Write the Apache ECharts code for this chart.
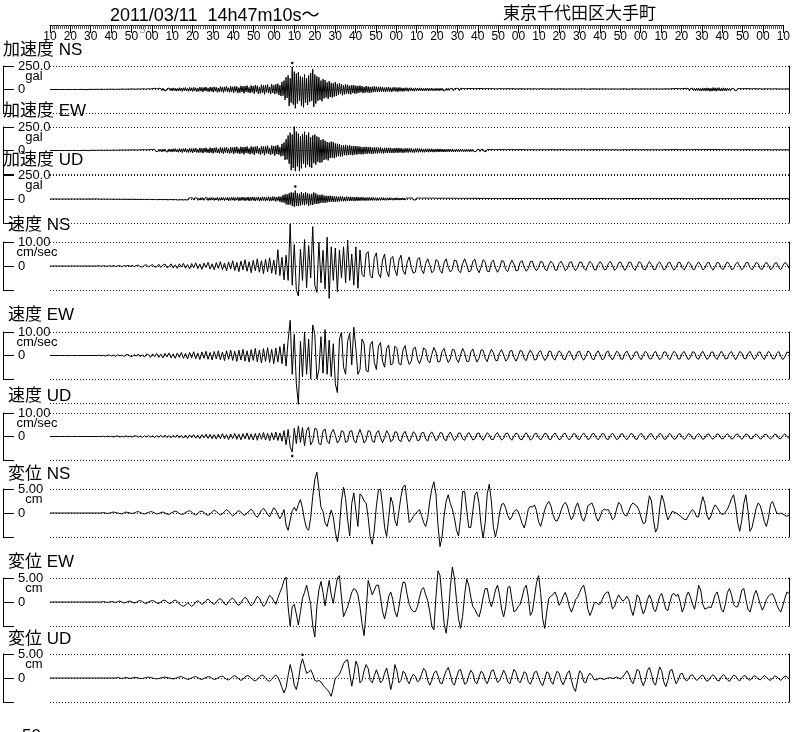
<!DOCTYPE html>
<html><head><meta charset="utf-8">
<script src="https://cdn.jsdelivr.net/npm/echarts@6/dist/echarts.min.js"></script>
<style>html,body{margin:0;padding:0;background:#fff}#c{width:793px;height:732px}</style>
</head><body><div id="c"></div>
<script>
// ---- tick labels of the time ruler (seconds, starting 14h47m10s, every 10 s) ----
const timeLabels = ['10','20','30','40','50','00','10','20','30','40','50','00','10','20','30','40','50','00',
  '10','20','30','40','50','00','10','20','30','40','50','00','10','20','30','40','50','00','10'];

// ---- acceleration (gal), one value every 0.5 s ----
const accNS = [
0,0,0,0,0,0,0,0,0,0, 0,0,0,0,0,0,0,0,0,0,
0,0,0,0,1,-1,0,1,-1,0, 1,-1,1,0,-1,1,-1,0,1,-1,
2,-1,1,-2,1,-1,2,-2,1,-1, 3,-2,1,-3,2,-1,3,-2,2,-3,
4,-2,3,-4,1,-3,4,-3,2,-4, 5,-3,4,-5,2,-4,5,-3,4,-6,
6,-4,5,-6,3,-5,7,-6,4,-7, 8,-5,6,-8,4,-7,9,-6,5,-8,
10,-7,12,-9,6,-11,13,-8,10,-12, 14,-9,11,-15,8,-12,16,-10,13,-15,
17,-11,14,-18,10,-15,19,-13,16,-20, 18,-12,21,-16,11,-19,22,-15,18,-21,
23,-14,19,-24,13,-20,25,-17,21,-26, 22,-15,27,-20,14,-24,26,-19,23,-28,
29,-18,24,-30,16,-26,31,-22,27,-32, 28,-19,33,-25,18,-30,34,-24,29,-35,
36,-22,31,-38,20,-33,39,-27,35,-41, 37,-24,42,-31,22,-38,43,-30,36,-45,
46,-28,40,-48,25,-42,50,-33,44,-52, 47,-30,53,-38,28,-47,55,-36,45,-50,
55,-40,62,-58,45,-70,80,-65,95,-110, 130,-90,150,-175,120,-140,240,-160,190,-200,
170,-150,185,-120,140,-175,130,-190,160,-140, 120,-165,150,-130,175,-120,215,-185,160,-150,
140,-120,130,-110,95,-125,110,-95,100,-85, 75,-100,90,-80,70,-85,65,-75,80,-70,
60,-55,65,-48,58,-62,45,-52,55,-42, 50,-46,40,-52,48,-38,45,-44,40,-42,
38,-35,42,-30,36,-38,28,-34,36,-30, 32,-35,27,-33,30,-28,34,-26,30,-27,
28,-26,30,-22,27,-25,21,-27,24,-20, 26,-23,19,-25,22,-18,24,-21,20,-24,
22,-18,20,-21,16,-20,19,-15,18,-20, 17,-14,19,-16,13,-18,17,-14,16,-15,
17,-13,15,-16,12,-15,16,-12,14,-15, 13,-11,15,-13,10,-14,13,-11,12,-14,
13,-10,14,-12,9,-13,12,-10,13,-11, 12,-9,11,-13,10,-11,12,-9,11,-12,
12,-9,11,-10,8,-12,10,-9,11,-10, 10,-8,11,-9,7,-10,9,-8,10,-9,
10,-7,9,-10,8,-9,10,-7,8,-9, 9,-7,10,-8,6,-9,8,-7,9,-8,
9,-6,8,-9,7,-8,9,-6,8,-8, 8,-6,9,-7,5,-8,7,-6,8,-7,
8,-6,7,-8,6,-7,8,-5,7,-8, 7,-6,8,-6,5,-7,7,-5,8,-6,
8,-5,7,-7,6,-8,6,-5,7,-7, 7,-5,6,-7,5,-6,8,-5,6,-7,
7,-5,6,-7,5,-6,7,-5,6,-7, 6,-4,7,-6,5,-7,6,-5,7,-6,
7,-5,6,-6,4,-7,6,-5,7,-6, 6,-4,7,-5,5,-6,7,-5,6,-6,
6,-5,7,-6,4,-6,7,-5,6,-7, 6,-4,6,-6,5,-7,6,-4,7,-6,
7,-5,6,-6,4,-7,6,-5,7,-6, 6,-5,7,-5,4,-6,7,-5,6,-7,
7,-5,6,-7,5,-6,7,-4,6,-6, 7,-5,6,-7,5,-6,7,-5,6,-6,
8,-5,7,-8,6,-7,9,-6,8,-9, 10,-7,9,-10,7,-9,11,-8,10,-11,
12,-8,11,-13,9,-12,14,-10,12,-14, 15,-10,14,-16,11,-14,17,-12,15,-17,
18,-12,16,-19,13,-17,20,-14,18,-19, 17,-12,19,-15,12,-16,18,-13,15,-16,
14,-10,13,-14,9,-12,13,-9,11,-12, 10,-8,11,-10,7,-10,10,-7,9,-10,
9,-6,8,-9,6,-8,9,-6,8,-8, 7,-6,8,-7,5,-7,8,-6,7,-7,
7,-5,7,-8,5,-7,8,-5,7,-7, 6,-5,7,-6,5,-7,6,-5,7,-6,
5];
const accEW = [
0,0,0,0,0,0,0,0,0,0, 0,0,0,0,0,0,0,0,0,0,
0,0,0,0,1,-1,0,1,-1,1, 0,-1,2,-1,1,-2,1,0,-2,1,
2,-1,3,-2,1,-3,2,-2,3,-1, 3,-3,2,-4,3,-2,4,-3,2,-4,
4,-3,5,-3,2,-5,4,-4,5,-2, 5,-4,6,-3,4,-6,5,-4,6,-5,
6,-5,7,-4,5,-7,6,-5,8,-6, 8,-6,9,-5,7,-9,8,-6,10,-8,
11,-8,13,-9,7,-12,14,-10,12,-14, 15,-10,16,-12,9,-15,17,-12,14,-17,
18,-12,20,-15,11,-19,21,-16,18,-22, 20,-14,23,-18,13,-21,24,-18,20,-25,
22,-16,26,-20,14,-24,27,-20,23,-28, 25,-18,29,-22,16,-27,30,-22,26,-31,
28,-20,32,-25,18,-30,33,-24,29,-35, 31,-22,36,-27,20,-33,37,-26,32,-38,
35,-24,39,-30,22,-36,40,-29,35,-42, 38,-26,43,-32,24,-40,44,-31,38,-46,
41,-28,47,-34,26,-43,48,-33,42,-50, 44,-30,51,-37,28,-47,52,-36,46,-55,
50,-38,58,-45,35,-62,70,-55,85,-100, 120,-95,160,-140,190,-210,170,-185,255,-220,
200,-170,180,-220,150,-190,175,-140,200,-180, 165,-150,190,-175,140,-185,160,-135,170,-150,
150,-120,140,-130,110,-125,120,-100,105,-95, 90,-105,85,-80,95,-75,90,-82,75,-70,
72,-60,68,-65,55,-62,58,-50,60,-52, 52,-48,55,-45,47,-50,46,-42,48,-44,
44,-38,42,-40,35,-41,38,-33,40,-36, 37,-32,38,-35,30,-36,34,-30,33,-32,
32,-28,33,-29,25,-31,28,-26,29,-27, 28,-24,29,-26,22,-27,26,-23,27,-25,
26,-21,25,-24,19,-24,23,-20,24,-22, 22,-18,23,-21,17,-22,21,-18,22,-20,
21,-17,20,-19,15,-19,19,-16,18,-18, 18,-15,19,-17,14,-18,17,-14,17,-16,
17,-14,16,-16,12,-16,15,-13,16,-15, 15,-12,14,-15,11,-14,15,-12,13,-14,
14,-11,13,-13,10,-13,13,-10,12,-13, 12,-10,13,-11,9,-12,11,-10,12,-11,
12,-9,11,-12,9,-11,12,-9,10,-11, 11,-9,10,-11,8,-10,11,-8,10,-10,
10,-8,11,-9,7,-10,9,-8,10,-9, 10,-7,9,-10,8,-9,10,-7,9,-9,
9,-7,10,-8,7,-9,9,-7,8,-9, 9,-7,8,-9,6,-8,9,-7,8,-8,
9,-6,8,-8,7,-9,8,-6,9,-8, 8,-6,9,-7,6,-8,8,-7,9,-8,
8,-7,9,-7,6,-8,8,-6,9,-8, 8,-6,8,-8,7,-9,8,-6,8,-7,
9,-7,8,-8,6,-8,9,-7,8,-8, 8,-6,9,-7,7,-8,8,-7,9,-8,
8,-6,9,-8,7,-8,8,-7,9,-7, 8,-7,8,-8,6,-9,8,-6,8,-8,
9,-7,8,-8,6,-8,9,-7,8,-9, 8,-6,9,-8,7,-8,8,-7,9,-7,
8,-7,9,-8,6,-8,8,-7,9,-8, 8,-6,8,-8,7,-9,8,-7,8,-8,
9,-7,8,-9,7,-8,10,-8,9,-9, 10,-7,9,-10,8,-9,10,-8,9,-10,
10,-8,11,-9,8,-10,11,-9,10,-11, 10,-8,11,-10,8,-10,11,-9,10,-10,
10,-8,11,-9,8,-10,10,-9,11,-9, 10,-8,9,-10,8,-9,10,-8,9,-9,
9,-7,10,-8,7,-9,9,-8,8,-9, 9,-7,8,-9,7,-8,9,-7,8,-8,
9,-7,8,-8,6,-8,9,-7,8,-8, 8,-6,9,-7,7,-8,8,-7,9,-8,
8,-7,8,-8,6,-8,9,-6,8,-8, 8,-6,8,-7,7,-8,8,-7,8,-7,
6];
const accUD = [
0,0,0,0,0,0,0,0,0,0, 0,0,0,0,0,0,0,0,0,0,
0,0,0,0,0,0,0,0,0,0, 0,1,0,-1,0,1,-1,0,1,0,
-1,1,0,-1,1,-1,1,0,-1,1, -1,2,-1,1,-2,1,-1,2,-1,1,
-2,2,-1,2,-3,1,-2,3,-2,1, -3,2,-3,3,-2,3,-4,2,-3,4,
-3,4,-2,4,-5,3,-4,5,-3,4, -5,4,-3,5,-6,4,-5,6,-4,5,
-6,5,-4,6,-7,5,-6,7,-5,6, -7,6,-5,7,-8,6,-7,8,-5,7,
-8,7,-6,9,-10,7,-9,10,-7,9, -10,8,-7,11,-12,9,-10,12,-8,11,
-12,10,-8,13,-14,10,-12,14,-9,13, -14,11,-9,15,-15,12,-13,15,-10,14,
-15,12,-10,16,-17,13,-14,17,-11,16, -17,13,-11,18,-18,14,-15,18,-12,17,
-18,14,-12,19,-20,15,-16,20,-13,18, -19,15,-13,21,-21,16,-17,21,-14,20,
-21,16,-14,22,-23,17,-18,23,-15,21, -22,17,-15,24,-24,18,-19,25,-16,23,
-25,19,-17,27,-30,24,-35,40,-38,48, -55,50,-62,60,-58,70,-72,65,-80,88,
-70,62,-75,55,-68,72,-60,58,-65,70, -55,62,-72,50,-60,55,-62,68,-50,58,
-52,45,-48,42,-40,46,-38,36,-40,33, -35,32,-30,34,-28,31,-29,27,-30,26,
-28,24,-26,27,-22,25,-24,21,-23,25, -21,22,-20,23,-19,21,-22,18,-20,21,
-19,17,-18,19,-16,18,-17,15,-18,16, -16,17,-15,16,-14,17,-15,13,-16,14,
-15,13,-14,15,-12,14,-13,12,-14,13, -12,13,-11,12,-13,11,-12,13,-11,12,
-12,10,-11,12,-10,11,-12,9,-11,10, -10,11,-9,11,-10,9,-11,10,-9,10,
-10,9,-10,8,-9,10,-8,9,-9,8, -9,8,-9,9,-7,9,-8,8,-9,7,
-8,8,-7,9,-8,7,-8,8,-7,8, -8,7,-8,7,-6,8,-7,7,-8,6,
-7,7,-6,7,-7,6,-7,7,-6,7, -7,6,-6,7,-5,7,-6,6,-7,6,
-6,6,-5,7,-6,5,-6,6,-5,6, -6,5,-6,6,-5,6,-5,5,-6,5,
-6,5,-5,6,-4,5,-6,5,-5,6, -5,4,-5,6,-5,5,-4,5,-6,5,
-5,5,-4,5,-5,4,-5,5,-4,6, -5,4,-5,5,-4,5,-5,4,-5,5,
-5,4,-5,5,-4,5,-4,4,-5,5, -4,5,-4,4,-5,4,-5,5,-4,4,
-5,4,-4,5,-4,5,-5,4,-4,5, -4,4,-5,4,-4,5,-4,4,-5,4,
-4,5,-4,4,-5,4,-4,5,-4,4, -5,4,-4,5,-4,4,-4,5,-5,4,
-4,4,-5,4,-4,5,-4,4,-5,4, -4,5,-4,4,-5,4,-4,4,-5,4,
-4,5,-4,4,-4,5,-5,4,-4,4, -5,4,-4,5,-4,4,-4,5,-4,4,
-5,4,-4,4,-5,4,-4,5,-4,4, -4,5,-5,4,-4,4,-5,4,-4,5,
-4,4,-5,4,-4,5,-4,4,-5,4, -4,4,-5,5,-4,4,-4,5,-4,4,
-5,4,-4,5,-4,4,-5,4,-4,4, -5,4,-4,5,-4,4,-4,4,-5,4,
-4,5,-4,4,-5,4,-4,4,-5,5, -4,4,-4,5,-4,4,-5,4,-4,4,
-4,5,-4,4,-5,4,-4,4,-5,4, -4,5,-4,4,-4,5,-4,4,-5,4,
-4,4,-5,4,-4,5,-4,4,-4,5, -4,4,-5,4,-4,4,-5,4,-4,4,
-4,4,-5,4,-4,4,-5,4,-4,5, -4,4,-4,5,-4,4,-5,4,-4,4,
-3];

// ---- velocity (cm/sec), one value per second ----
const velNS = [
0,0,0,0,0,0,0,0,0,0, 0,0,0,0,0,0,0,0,0,0,
0,0,0,0,0.1,-0.1,0.1,0,-0.1,0.2, -0.1,0.2,-0.2,0.1,0.2,-0.3,0.2,-0.1,0.3,-0.2,
0.3,-0.3,0.2,0.4,-0.3,-0.4,0.3,0.5,-0.4,0.2, 0.6,-0.5,-0.3,0.7,-0.6,0.4,0.8,-0.7,-0.2,0.9,
-0.8,0.5,-1.0,0.9,-0.4,1.1,-0.9,0.6,-1.2,1.0, -0.7,1.3,-1.1,0.8,-1.4,1.2,-0.6,1.5,-1.3,0.9,
-1.6,1.4,-1.0,1.8,-1.5,1.2,-2.0,1.7,-1.3,2.2, -1.9,1.5,-2.4,2.0,-1.6,2.6,-2.2,1.8,-2.8,2.4,
-2.0,3.0,-2.6,2.2,-3.2,2.8,-2.4,3.4,-3.0,2.5, -3.5,6.8,-4.0,3.6,-5.8,4.5,-6.0,17.5,-8.0,9.0,
-10.0,-12.5,7.0,-6.0,11.0,-9.0,8.5,-5.0,16.4,-8.0, -11.0,10.0,-7.0,6.5,-9.5,12.0,-13.5,8.0,-6.0,7.5,
-10.7,6.7,-5.0,8.0,-7.0,10.8,-6.0,5.0,-8.0,8.0, -9.3,6.7,-3.5,-4.5,5.0,6.0,-4.0,-5.0,3.5,5.5,
-3.0,-4.8,2.5,5.0,-2.0,-4.5,3.0,4.0,-1.5,-4.0, 2.5,4.5,-2.0,-3.5,1.5,3.8,-0.5,-3.0,-2.5,2.8,
3.5,-1.5,-3.2,1.0,3.0,0.5,-2.8,-2.0,2.6,2.0, -1.8,-3.0,1.5,3.0,-0.5,-2.5,-1.5,2.5,2.2,-2.0,
-2.8,1.0,3.0,0.5,-2.5,-2.0,2.0,2.8,-1.0,-2.8, -0.5,2.6,1.8,-2.2,-2.4,1.5,2.5,-0.8,-2.6,-1.0,
2.2,2.0,-1.5,-2.3,0.5,2.4,0.8,-2.0,-1.8,1.6, 2.2,-0.5,-2.2,-1.0,1.8,2.0,-0.8,-2.0,-0.6,1.9,
1.6,-1.2,-2.0,0.4,2.0,1.0,-1.6,-1.8,1.0,2.0, 0.2,-1.9,-1.2,1.4,1.8,-0.6,-1.9,-0.6,1.6,1.6,
-0.9,-1.8,0.3,1.9,1.0,-1.4,-1.7,0.6,1.8,0.6, -1.6,-1.4,1.0,1.9,0.2,-1.8,-1.0,1.3,1.7,-0.4,
-1.8,-0.6,1.6,1.5,-0.8,-1.8,0,1.8,1.1,-1.3, -1.6,0.5,1.8,0.6,-1.5,-1.4,0.9,1.7,0.2,-1.6,
-1.1,1.2,1.6,-0.4,-1.7,-0.6,1.5,1.4,-0.9,-1.6, 0.1,1.7,0.9,-1.3,-1.5,0.6,1.7,0.3,-1.6,-1.0,
1.1,1.6,-0.5,-1.7,-0.3,1.5,1.2,-1.0,-1.5,0.4, 1.7,0.6,-1.5,-1.2,0.9,1.6,-0.2,-1.6,-0.7,1.3,
1.5,-0.6,-1.6,-0.2,1.5,1.0,-1.2,-1.4,0.5,1.6, 0.3,-1.5,-0.9,1.1,1.4,-0.7,-1.5,0.1,1.5,0.8,
-1.0];
const velEW = [
0,0,0,0,0,0,0,0,0,0, 0,0,0,0,0,0,0,0,0,0,
0,0,0,0,0.1,-0.1,0.1,-0.2,0.1,0.2, -0.2,0.1,-0.3,0.3,-0.1,0.2,-0.4,0.3,0.4,-0.3,
-0.5,0.4,-0.3,0.6,-0.5,0.3,-0.7,0.6,0.4,-0.8, 0.7,-0.5,0.9,-0.8,0.6,-1.0,0.9,-0.6,1.1,-1.0,
0.7,-1.2,1.1,-0.8,1.3,-1.2,0.9,-1.5,1.3,-1.0, 1.6,-1.4,1.1,-1.7,1.5,-1.2,1.8,-1.6,1.3,-1.9,
1.7,-1.4,2.0,-1.8,1.5,-2.2,2.0,-1.6,2.3,-2.1, 1.8,-2.5,2.3,-1.9,2.6,-2.4,2.0,-2.8,2.5,-2.1,
3.0,-2.7,2.3,-3.2,2.9,-2.5,3.3,-3.0,2.6,-3.5, 3.2,-2.8,3.8,-3.5,5.0,-4.5,6.5,15.0,-8.0,9.0,
-12.0,-20.8,6.0,-9.0,10.0,-8.0,7.0,-10.0,13.0,9.0, -10.0,-6.0,8.0,-7.5,11.0,-8.0,6.5,-9.0,5.0,-12.0,
-15.8,7.0,10.0,-5.0,-8.0,6.0,9.5,-4.0,12.0,3.0, -8.0,-6.0,7.0,5.0,-6.5,-7.0,4.5,6.0,-3.0,-6.0,
4.0,5.5,-2.5,-5.0,3.0,4.5,-4.0,-3.5,4.0,3.0, -3.5,-4.0,2.5,4.2,-1.0,-3.8,-2.5,3.0,3.5,-1.5,
-3.5,-1.0,3.2,2.5,-2.0,-3.2,0.5,3.4,1.5,-2.8, -2.5,1.8,3.0,-0.5,-3.0,-1.5,2.6,2.4,-1.5,-3.0,
0.2,3.0,1.2,-2.5,-2.5,1.5,2.8,-0.3,-2.8,-1.2, 2.4,2.2,-1.2,-2.6,0.3,2.6,1.2,-2.0,-2.2,1.2,
2.5,0.2,-2.4,-1.4,1.8,2.2,-0.8,-2.4,-0.6,2.1, 1.8,-1.4,-2.2,0.6,2.3,0.8,-1.9,-1.7,1.3,2.1,
-0.3,-2.1,-1.0,1.8,1.8,-1.0,-2.0,0.4,2.0,1.1, -1.5,-1.8,0.8,2.0,0.2,-1.9,-1.2,1.5,1.8,-0.7,
-2.0,-0.4,1.9,1.3,-1.3,-1.8,0.7,2.0,0.3,-1.8, -1.2,1.4,1.8,-0.7,-1.9,-0.2,1.8,1.2,-1.4,-1.6,
0.8,1.9,0.1,-1.8,-1.0,1.4,1.6,-0.7,-1.8,0.1, 1.8,0.9,-1.4,-1.4,0.8,1.8,-0.2,-1.8,-0.8,1.5,
1.5,-0.9,-1.8,0.3,1.8,0.8,-1.5,-1.4,1.0,1.7, -0.2,-1.8,-0.7,1.6,1.3,-1.1,-1.6,0.6,1.8,0.1,
-1.7,-0.9,1.4,1.5,-0.8,-1.7,0.3,1.8,0.6,-1.5, -1.3,1.0,1.7,-0.4,-1.8,-0.2,1.7,1.1,-1.2,-1.5,
0.7,1.8,0,-1.7,-0.9,1.4,1.5,-0.7,-1.7,0.2, 1.8,0.8,-1.4,-1.4,0.8,1.7,-0.3,-1.7,-0.6,1.5,
1.2];
const velUD = [
0,0,0,0,0,0,0,0,0,0, 0,0,0,0,0,0,0,0,0,0,
0,0,0,0,0,0,0.1,-0.1,0.1,-0.1, 0.1,-0.2,0.1,0.2,-0.2,0.1,-0.2,0.3,-0.2,0.2,
-0.3,0.2,0.3,-0.3,0.2,-0.4,0.3,-0.2,0.4,-0.3, 0.3,-0.5,0.4,-0.3,0.5,-0.4,0.6,-0.5,0.4,-0.6,
0.5,-0.4,0.7,-0.6,0.5,-0.7,0.6,-0.8,0.7,-0.5, 0.8,-0.7,0.6,-0.9,0.8,-0.6,1.0,-0.8,0.9,-1.0,
0.8,-1.1,1.0,-0.9,1.2,-1.0,0.8,-1.3,1.1,-0.9, 1.3,-1.2,1.0,-1.4,1.2,-1.0,1.5,-1.3,1.1,-1.5,
1.3,-1.6,1.4,-1.2,1.7,-1.5,1.3,-1.8,1.6,-1.4, 1.9,-1.7,1.5,-2.0,2.5,-3.5,3.0,-4.5,-6.6,3.5,
-3.0,4.5,-2.5,3.8,-4.0,2.5,4.0,-3.5,-2.0,3.5, 3.0,-3.0,-3.5,2.5,3.2,-2.0,-3.0,1.5,3.0,0.5,
-2.8,-1.5,2.5,2.0,-2.5,-2.0,2.2,2.5,-1.5,-2.8, 0.5,3.0,0.5,-2.8,-1.5,2.5,2.0,-2.0,-2.5,1.5,
2.5,-0.5,-2.6,-0.5,2.5,1.0,-2.2,-1.5,2.0,1.8, -1.5,-2.2,1.0,2.2,-0.5,-2.2,-0.5,2.0,1.2,-1.8,
-1.5,1.5,1.8,-1.0,-2.0,0.8,2.0,0.2,-1.8,-1.0, 1.6,1.5,-1.2,-1.8,0.6,1.9,0,-1.8,-0.8,1.5,
1.4,-1.0,-1.6,0.5,1.7,0.3,-1.5,-1.0,1.2,1.5, -0.6,-1.6,0,1.6,0.8,-1.3,-1.3,0.8,1.6,-0.2,
-1.5,-0.8,1.3,1.4,-0.6,-1.6,0.1,1.5,0.9,-1.2, -1.4,0.6,1.6,0.2,-1.5,-0.9,1.1,1.4,-0.5,-1.5,
-0.2,1.4,1.0,-1.1,-1.3,0.5,1.5,0.2,-1.4,-0.9, 1.0,1.4,-0.4,-1.5,-0.3,1.3,1.0,-1.0,-1.3,0.5,
1.5,0.3,-1.3,-0.9,1.0,1.3,-0.4,-1.4,-0.3,1.3, 1.0,-1.0,-1.3,0.5,1.4,0.2,-1.3,-0.8,1.0,1.2,
-0.5,-1.4,-0.1,1.3,0.9,-1.0,-1.2,0.5,1.4,0.1, -1.3,-0.8,1.0,1.2,-0.5,-1.3,-0.1,1.3,0.8,-1.0,
-1.2,0.5,1.3,0.1,-1.2,-0.8,0.9,1.2,-0.4,-1.3, -0.2,1.2,0.8,-0.9,-1.1,0.5,1.3,0.1,-1.2,-0.7,
0.9,1.1,-0.4,-1.2,-0.2,1.2,0.7,-0.9,-1.0,0.4, 1.2,0.2,-1.1,-0.7,0.8,1.1,-0.3,-1.2,-0.2,1.1,
0.7,-0.8,-1.0,0.4,1.1,0.1,-1.1,-0.6,0.8,1.0, -0.3,-1.1,-0.2,1.0,0.7,-0.8,-1.0,0.4,1.1,0.1,
-0.9];

// ---- displacement (cm), one value per second ----
const dspNS = [
0,0,0,0,0,0,0,0,0,0, 0,0,0,0,0,0,0,0,0,0,
0,0,0,0,0,0,0.1,0,-0.1,0, 0.1,0.2,0.1,0,-0.1,-0.2,0,0.2,0.1,0,
-0.1,0,0.2,0.3,0.1,-0.1,-0.2,0,0.1,0.3, 0.2,0,-0.2,-0.1,0.1,0.2,0,-0.2,-0.3,0,
0.2,0.4,0.2,-0.1,-0.3,-0.2,0.1,0.3,0.5,0.2, -0.2,-0.4,-0.1,0.3,0.4,0.1,-0.3,-0.5,-0.2,0.2,
0.6,0.3,-0.1,-0.4,-0.2,0.3,0.7,0.4,-0.2,-0.6, -0.3,0.2,0.5,0.2,-0.3,-0.5,0,0.4,0.8,0.3,
-0.5,-0.9,-0.2,0.6,1.0,0.4,-0.3,-0.8,0.2,1.1, 0.6,-0.4,-1.2,-0.5,0.7,-2.5,-3.6,-1.5,0.5,1.2,
0.4,1.8,2.8,1.0,-1.5,-3.2,-3.6,-1.0,3.5,7.0, 8.5,5.0,1.2,0.3,-2.0,-2.8,-1.0,0.6,-0.8,-4.0,
-6.0,-3.0,2.5,5.4,3.0,-1.5,-4.8,2.0,4.2,0.5, -2.8,4.0,3.5,2.5,2.1,-1.0,-5.0,-6.5,-3.5,1.5,
4.8,5.0,1.5,-3.0,-4.9,-1.0,3.3,2.0,-1.5,-2.7, 0.5,3.5,5.5,5.8,2.0,-2.0,-1.5,-0.7,-0.2,0.3,
0.7,-0.5,-2.0,-2.8,-1.0,2.5,5.0,6.5,4.0,-2.5, -7.0,-5.0,-0.5,2.5,3.8,2.0,0.8,-1.0,-3.5,-4.8,
-1.0,4.5,4.5,0.5,-3.0,-3.0,0.5,3.8,4.4,2.0, -2.5,-5.2,-2.0,4.0,6.0,2.5,-3.0,-5.0,-3.0,0,
1.8,2.0,1.0,-0.5,-1.4,-0.8,0.2,0.7,0.4,-0.8, -2.2,-3.1,-1.5,0.8,1.4,1.2,1.7,0.5,-1.8,-2.8,
-1.2,0.7,1.8,2.4,1.5,-0.3,-1.5,-1.7,-0.8,0.6, 1.7,2.2,1.5,-0.2,-1.4,-0.6,1.2,2.1,0.8,-1.0,
-1.7,-0.5,1.5,1.8,2.1,1.0,-0.8,-1.7,-0.8,0.5, 0.8,0.6,0.7,-0.2,-1.4,-1.0,0.8,2.2,1.8,0.3,
-0.5,-0.6,0.5,1.6,2.1,1.7,1.4,0.5,-1.0,-2.2, -2.0,0.8,3.6,2.5,-1.5,-4.0,-3.0,1.0,3.7,2.5,
0.2,-1.4,-0.6,0.3,0.2,0,-0.3,-0.6,-1.0,-1.3, -1.4,-0.6,0.2,0.7,0.2,-0.8,-0.8,1.5,3.4,2.0,
-0.5,-1.4,-0.6,0.8,1.7,1.2,0.4,-0.2,-0.3,0.2, 0.8,1.8,3.0,3.8,1.5,-2.0,-3.8,-1.5,2.0,3.8,
0.5,-3.8,-3.0,-1.0,1.0,2.1,1.5,0,-1.8,-2.8, -1.0,1.8,2.4,1.2,0,-0.2,0,-0.2,-0.5,-0.7,
-0.4];
const dspEW = [
0,0,0,0,0,0,0,0,0,0, 0,0,0,0,0,0,0,0,0,0,
0,0,0,0,0,0,0.1,0,-0.1,0, 0.1,0,-0.1,0.1,0.2,0,-0.2,-0.1,0.1,0.2,
0,-0.2,-0.1,0.2,0.3,0.1,-0.2,-0.3,0,0.2, 0.3,0.1,-0.2,-0.3,0,0.3,0.4,0,-0.3,-0.2,
0.2,0.4,0.1,-0.4,-0.7,-0.9,-0.6,-0.2,-0.5,-0.9, -0.6,0,0.3,-0.1,-0.5,-0.2,0.3,0.6,0.2,-0.3,
-0.5,0,0.5,0.7,0.2,-0.4,-0.6,0,0.6,0.8, 0.3,-0.4,-0.7,-0.2,0.5,1.0,0.6,-0.2,-0.8,-0.4,
0.4,1.2,0.8,-0.1,-0.9,-0.5,0.6,1.4,1.0,0.2, -0.5,0.8,2.0,3.0,4.5,5.2,-1.0,-5.0,-1.0,-0.5,
-2.5,-4.8,-2.0,0.8,2.0,3.5,1.5,-0.5,-5.0,-7.3, -1.0,2.5,4.3,2.0,-0.8,2.0,4.5,1.5,-0.3,2.5,
5.0,5.5,1.0,-3.1,-2.0,-1.0,0.5,2.0,2.8,2.5, 1.5,-1.0,-4.5,-7.0,-2.0,4.5,3.0,1.5,2.5,3.5,
3.5,1.0,-2.0,-3.5,-1.5,1.2,2.1,0.5,-2.0,-3.1, -1.0,2.0,4.2,4.0,1.5,-0.5,-1.5,-2.0,-2.0,-1.0,
1.0,2.6,3.0,1.5,0.3,-2.0,-5.0,-5.8,1.0,6.5, 5.5,0.5,-4.5,-6.5,-3.0,3.0,7.3,5.0,0.5,-3.5,
-5.5,-3.0,1.5,4.8,3.5,1.0,-1.0,-1.5,-2.5,-3.1, -1.5,1.0,2.8,2.8,0.5,-1.0,0.5,2.5,3.5,1.5,
-1.5,-3.1,-1.0,3.0,3.3,0.5,-2.0,-1.8,-1.0,-0.5, 1.0,2.8,3.5,1.0,-2.8,-2.0,1.0,4.0,5.5,2.0,
-3.5,-5.5,-2.0,0.8,1.2,1.5,2.1,1.0,-0.7,0, 1.2,2.0,0.8,-1.0,-2.1,-1.0,0.5,1.0,2.0,3.0,
3.5,1.5,-1.5,-2.8,-1.8,-0.3,0,-0.5,-0.4,0.5, 1.5,2.0,2.1,0.5,-1.4,-1.0,0.5,1.5,0.8,0.2,
0.5,1.2,0.5,-1.5,-2.8,-1.0,1.5,1.0,-1.0,-2.5, -1.5,0.5,1.5,0.5,-1.5,-2.0,-0.5,1.2,1.8,0.2,
-1.5,-1.8,0,1.5,1.8,1.2,1.6,0,-2.1,-1.0, 1.2,2.1,1.0,-0.5,-1.5,0.8,3.5,2.5,-0.5,-1.5,
-1.3,-1.0,-1.2,0,1.5,2.1,0.5,-1.5,-2.1,-0.5, 2.0,2.8,1.5,-0.5,-1.0,-1.0,0.5,2.5,2.8,0.5,
-1.5,-2.1,-0.5,1.5,2.4,1.0,-0.5,-1.7,-0.8,0.5, 1.2,1.6,1.7,0.8,-0.5,-1.5,-2.1,-0.8,0.8,2.1,
1.8];
const dspUD = [
0,0,0,0,0,0,0,0,0,0, 0,0,0,0,0,0,0,0,0,0,
0,0,0,0,0,0,0,0,0,0, 0,0,0,0.1,0,-0.1,0,0.1,0,-0.1,
0,0.1,0.1,0,-0.1,-0.1,0,0.1,0.2,0.1, 0,-0.1,-0.2,-0.1,0,0.1,0.2,0.1,0,-0.1,
-0.2,-0.1,0.1,0.2,0.3,0.1,-0.1,-0.3,-0.2,0, 0.2,0.3,0.1,-0.2,-0.3,-0.1,0.1,0.3,0.2,-0.1,
-0.3,-0.2,0.1,0.3,0.4,0.1,-0.3,-0.4,-0.1,0.3, 0.5,0.2,-0.2,-0.5,-0.3,0.2,0.5,0.4,0,-0.4,
-0.6,-0.3,0.2,0.6,0.5,0,-0.5,-0.7,-0.3,0.3, 0.6,0.2,-0.8,-2.0,-3.1,-2.0,0.5,2.8,1.0,-1.5,
-2.4,-0.5,2.5,4.0,2.5,1.0,1.2,1.7,0.8,-0.5, -0.7,-0.5,-0.8,-1.5,-2.0,-2.4,-3.0,-3.8,-2.0,0,
0.3,0.8,1.8,3.0,3.6,3.8,1.0,-1.7,0.5,3.5, 2.5,-1.0,-0.5,1.5,2.8,2.0,-0.5,-1.0,0.5,1.7,
0.5,-1.0,-0.5,1.0,2.1,0,-2.4,-0.5,2.8,1.5, -1.0,-0.5,1.4,1.0,-0.5,-1.2,0,0.8,0.3,-0.8,
-0.5,0.8,2.0,1.5,-0.5,-1.5,-0.5,1.0,1.5,0.5, -1.0,-1.2,0.3,1.5,2.2,0.8,-1.0,-1.5,0,1.5,
1.8,0.2,-1.3,-1.0,0.5,1.6,1.0,-0.8,-1.2,0.2, 1.4,1.0,-0.5,-1.2,0,1.5,1.7,0.3,-0.9,-0.6,
0.5,1.6,0.8,-0.8,-1.2,0.3,1.8,1.2,-0.5,-1.0, 0,1.3,1.0,-0.8,-1.3,-0.2,1.2,1.4,0.2,-1.0,
-1.6,-0.2,1.3,1.0,-0.7,-1.3,0.2,1.4,1.0,-0.6, -1.4,-0.3,1.0,1.5,-0.5,-2.0,-2.8,-0.5,1.5,1.0,
-0.8,-1.0,0.3,1.0,0.5,-0.3,-0.4,-0.2,0,-0.2, -0.3,-0.1,0,0.1,-0.1,0,0.2,0,-0.2,0.2,
0.8,1.5,0.8,-0.5,-1.2,0.2,1.8,1.5,-0.5,-1.6, -0.5,1.5,2.2,0.8,-1.0,-1.5,0.5,2.3,1.5,-0.8,
-1.8,-0.5,1.5,1.8,0.2,-1.2,-0.5,0.8,1.0,0, -0.6,-0.3,0.5,0.7,0,-0.5,-0.2,0.4,0.6,0,
-0.7,-0.4,0.3,0.7,0.2,-0.5,-0.6,0.2,0.7,0.3, -0.4,-0.7,0,0.6,0.4,-0.3,-0.6,0,0.5,0.4,
-0.2,-0.5,0,0.5,0.3,-0.2,-0.4,0.1,0.5,0.2, -0.3,-0.5,0,0.4,0.3,-0.2,-0.5,-0.1,0.4,0.3,
-0.3];

// ---- panel descriptions ----
const traceNames = ['加速度 NS','加速度 EW','加速度 UD','速度 NS','速度 EW','速度 UD','変位 NS','変位 EW','変位 UD'];
const traceMax   = [250,250,250,10,10,10,5,5,5];
const traceStep  = [0.5,0.5,0.5,1,1,1,1,1,1];
const maxLabels  = ['250.0','250.0','250.0','10.00','10.00','10.00','5.00','5.00','5.00'];
const unitNames  = ['gal','gal','gal','cm/sec','cm/sec','cm/sec','cm','cm','cm'];
const peakType   = ['max','max','max','max','min','min','max','min','max'];
const headerLeft  = '2011/03/11  14h47m10s〜';
const headerRight = '東京千代田区大手町';

// ---- layout (pixels) ----
const panelTop = [66,127,175,242,332,413,489,578,654];
const panelH   = [47,47,48,48,47,47,48,48,48];
const titleY   = [50,111,160,225,315,396,474,562,639];
const titleX   = [3,3,3,8,8,8,8,8,8];
const unitX    = [34,34,34,37,37,37,34,34,34];

const FONT = '"Liberation Sans","Noto Sans CJK JP",sans-serif';
const traces = [accNS, accEW, accUD, velNS, velEW, velUD, dspNS, dspEW, dspUD];
const grids = [], xAxes = [], yAxes = [], series = [], graphics = [];

traces.forEach((arr, i) => {
  const M = traceMax[i];
  grids.push({left: 50, right: 4, top: panelTop[i], height: panelH[i]});
  xAxes.push({gridIndex: i, type: 'value', min: 0, max: 360, show: false});
  yAxes.push({
    gridIndex: i, type: 'value', position: 'left', min: -M, max: M, interval: M, offset: 47,
    axisLine: {show: true, onZero: false, lineStyle: {color: '#000', width: 1}},
    axisTick: {show: true, inside: true, length: 11, lineStyle: {color: '#000', width: 1}},
    axisLabel: {show: true, inside: true, margin: 15, color: '#000', fontSize: 13, fontFamily: FONT,
      formatter: v => v > 0 ? maxLabels[i] : (v === 0 ? '0' : '')},
    splitLine: {show: true, lineStyle: {color: '#222', width: 1, type: [1, 2]}}
  });
  yAxes.push({
    gridIndex: i, type: 'value', position: 'right', min: -M, max: M,
    axisLine: {show: true, onZero: false, lineStyle: {color: '#000', width: 1}},
    axisTick: {show: false}, axisLabel: {show: false}, splitLine: {show: false}
  });
  series.push({
    type: 'line', xAxisIndex: i, yAxisIndex: 2 * i,
    data: arr.map((v, k) => [k * traceStep[i], v]),
    showSymbol: false, symbol: 'none', clip: false, silent: true, animation: false,
    lineStyle: {color: '#000', width: 1},
    markPoint: {
      symbol: 'circle', symbolSize: 2.5,
      symbolOffset: [0, peakType[i] === 'max' ? -4 : 4],
      label: {show: false}, itemStyle: {color: '#000'}, animation: false,
      data: [{type: peakType[i]}]
    }
  });
  graphics.push({type: 'text', x: titleX[i], y: titleY[i],
    style: {text: traceNames[i], fontSize: 17, fontFamily: FONT, fill: '#000', align: 'left', verticalAlign: 'middle'}});
  graphics.push({type: 'text', x: unitX[i], y: panelTop[i] + 10.5,
    style: {text: unitNames[i], fontSize: 13, fontFamily: FONT, fill: '#000', align: 'center', verticalAlign: 'middle'}});
});

// extra dotted rule between the EW and UD velocity panels
graphics.push({type: 'line', shape: {x1: 50, y1: 403.5, x2: 789, y2: 403.5},
  style: {stroke: '#222', lineWidth: 1, lineDash: [1, 2]}, silent: true});

// time ruler at the top
grids.push({left: 50, right: 4, top: 25, height: 20});
xAxes.push({
  gridIndex: 9, type: 'value', position: 'top', min: 0, max: 360, interval: 10,
  axisLine: {show: true, onZero: false, lineStyle: {color: '#000', width: 1}},
  axisTick: {show: true, inside: true, length: 8, lineStyle: {color: '#000', width: 1}},
  minorTick: {show: true, splitNumber: 10, length: 4, lineStyle: {color: '#555', width: 1}},
  axisLabel: {show: true, inside: true, margin: 6, color: '#000', fontSize: 12, fontFamily: FONT,
    showMinLabel: true, showMaxLabel: true, hideOverlap: false,
    formatter: v => timeLabels[Math.round(v / 10)]},
  splitLine: {show: false}
});
yAxes.push({gridIndex: 9, type: 'value', show: false, min: 0, max: 1});
series.push({type: 'line', xAxisIndex: 9, yAxisIndex: 18, data: [], silent: true});

graphics.push({type: 'text', x: 110, y: 16,
  style: {text: headerLeft, fontSize: 18, fontFamily: FONT, fill: '#000', align: 'left', verticalAlign: 'middle'}});
graphics.push({type: 'text', x: 503, y: 14,
  style: {text: headerRight, fontSize: 17, fontFamily: FONT, fill: '#000', align: 'left', verticalAlign: 'middle'}});
graphics.push({type: 'text', x: 53, y: 29,
  style: {text: 'P', fontSize: 9, fontFamily: FONT, fill: '#999', align: 'left', verticalAlign: 'middle'}});
graphics.push({type: 'text', x: 139, y: 30,
  style: {text: 'S', fontSize: 10, fontFamily: FONT, fill: '#999', align: 'left', verticalAlign: 'middle'}});
graphics.push({type: 'text', x: 22, y: 728,
  style: {text: '50', fontSize: 17, fontFamily: FONT, fill: '#000', align: 'left', verticalAlign: 'top'}});

const chart = echarts.init(document.getElementById('c'), null, {renderer: 'canvas'});
chart.setOption({
  animation: false,
  backgroundColor: '#fff',
  grid: grids, xAxis: xAxes, yAxis: yAxes, series: series,
  graphic: graphics
});
</script>
</body></html>
